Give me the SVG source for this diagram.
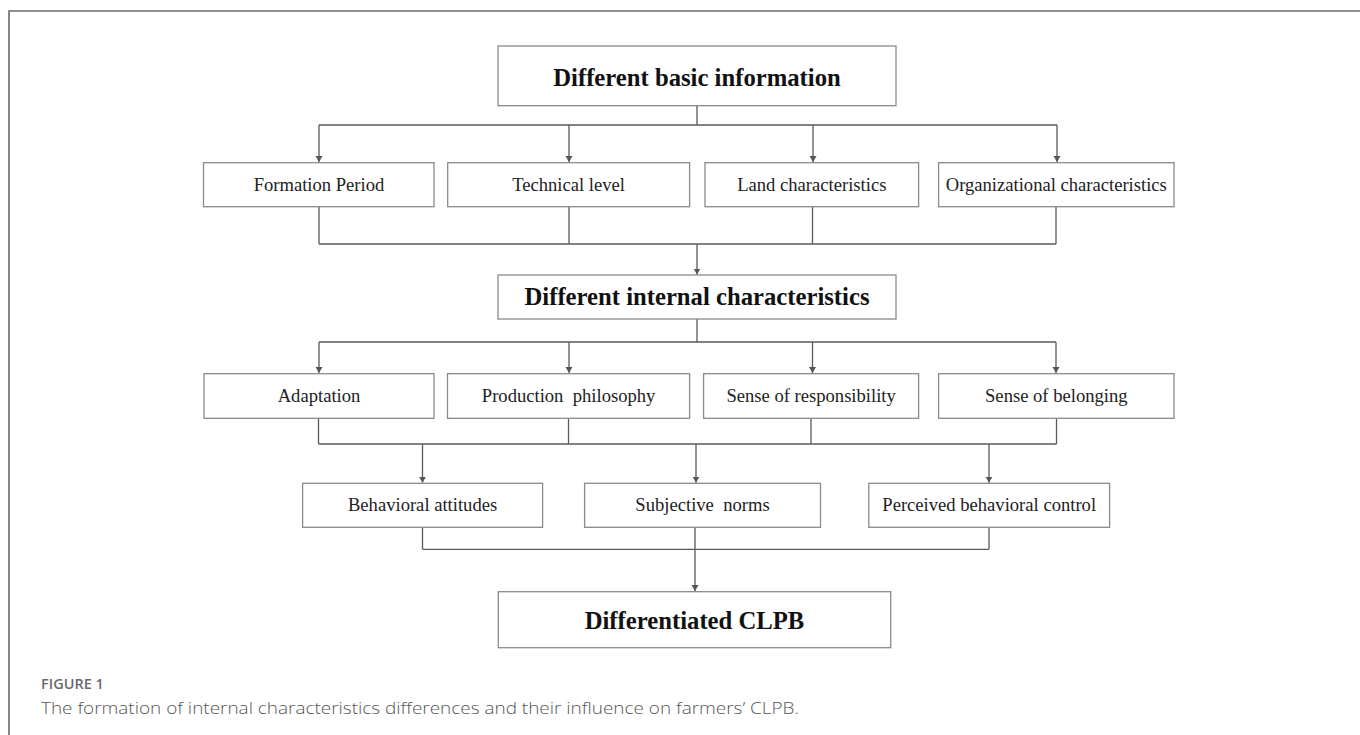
<svg xmlns="http://www.w3.org/2000/svg" width="1360" height="735" viewBox="0 0 1360 735">
<defs>
<marker id="arr" markerUnits="userSpaceOnUse" markerWidth="7" markerHeight="8" refX="6" refY="3.5" orient="auto">
<path d="M0,0 L6,3.5 L0,7 z" fill="#555"/>
</marker>
<style>
.box{fill:#fff;stroke:#8a8a8a;stroke-width:1.3}
.t{font-family:"Liberation Serif","Times New Roman",serif;font-size:18.6px;fill:#222;text-anchor:middle;white-space:pre}
.tb{font-family:"Liberation Serif","Times New Roman",serif;font-size:24.7px;font-weight:bold;fill:#111;text-anchor:middle}
.ln{fill:none;stroke:#5a5a5a;stroke-width:1.3}
.ar{fill:none;stroke:#5a5a5a;stroke-width:1.3;marker-end:url(#arr)}
</style>
</defs>
<rect width="1360" height="735" fill="#fff"/>
<path d="M1362,11 H9 V737" fill="none" stroke="#6a6a6a" stroke-width="1.6"/>

<g id="connectors">
<path class="ln" d="M697,105.7 V125 M319,125 H1057"/>
<path class="ar" d="M319,125 V162"/>
<path class="ar" d="M569,125 V162"/>
<path class="ar" d="M813,125 V162"/>
<path class="ar" d="M1057,125 V162"/>
<path class="ln" d="M319,206.7 V244 M569,206.7 V244 M812.5,206.7 V244 M1056,206.7 V244 M319,244 H1056"/>
<path class="ar" d="M697,244 V274.5"/>
<path class="ln" d="M697,319 V342 M319,342 H1056"/>
<path class="ar" d="M319,342 V373"/>
<path class="ar" d="M569,342 V373"/>
<path class="ar" d="M812.5,342 V373"/>
<path class="ar" d="M1056,342 V373"/>
<path class="ln" d="M318.5,418.3 V444 M568.5,418.3 V444 M811,418.3 V444 M1056.5,418.3 V444 M318.5,444 H1056.5"/>
<path class="ar" d="M422.5,444 V482.7"/>
<path class="ar" d="M696,444 V482.7"/>
<path class="ar" d="M989,444 V482.7"/>
<path class="ln" d="M422.5,527.3 V549.3 M695,527.3 V549.3 M989,527.3 V549.3 M422.5,549.3 H989"/>
<path class="ar" d="M695,549.3 V591"/>
</g>

<g id="n-basic">
<rect class="box" x="498" y="46" width="398" height="59.7"/>
<text class="tb" x="697" y="85.7">Different basic information</text>
</g>
<g id="n-formation">
<rect class="box" x="203.5" y="162.7" width="230.5" height="44"/>
<text class="t" x="319" y="191">Formation Period</text>
</g>
<g id="n-technical">
<rect class="box" x="447.7" y="162.7" width="241.9" height="44"/>
<text class="t" x="568.6" y="191">Technical level</text>
</g>
<g id="n-land">
<rect class="box" x="705" y="162.7" width="213.6" height="44"/>
<text class="t" x="811.8" y="191">Land characteristics</text>
</g>
<g id="n-org">
<rect class="box" x="938.6" y="162.7" width="235.4" height="44"/>
<text class="t" x="1056.3" y="191">Organizational characteristics</text>
</g>
<g id="n-internal">
<rect class="box" x="498" y="275" width="398" height="44"/>
<text class="tb" x="697" y="304.5">Different internal characteristics</text>
</g>
<g id="n-adaptation">
<rect class="box" x="204" y="373.7" width="230" height="44.6"/>
<text class="t" x="319" y="401.7">Adaptation</text>
</g>
<g id="n-production">
<rect class="box" x="447.5" y="373.7" width="242.1" height="44.6"/>
<text class="t" x="568.6" y="401.7" xml:space="preserve">Production  philosophy</text>
</g>
<g id="n-responsibility">
<rect class="box" x="703.6" y="373.7" width="215" height="44.6"/>
<text class="t" x="811.1" y="401.7">Sense of responsibility</text>
</g>
<g id="n-belonging">
<rect class="box" x="938.6" y="373.7" width="235.4" height="44.6"/>
<text class="t" x="1056.3" y="401.7">Sense of belonging</text>
</g>
<g id="n-attitudes">
<rect class="box" x="302.6" y="483.3" width="240" height="44"/>
<text class="t" x="422.6" y="510.7">Behavioral attitudes</text>
</g>
<g id="n-norms">
<rect class="box" x="584.6" y="483.3" width="235.9" height="44"/>
<text class="t" x="702.5" y="510.7" xml:space="preserve">Subjective  norms</text>
</g>
<g id="n-control">
<rect class="box" x="868.8" y="483.3" width="240.8" height="44"/>
<text class="t" x="989.2" y="510.7">Perceived behavioral control</text>
</g>
<g id="n-clpb">
<rect class="box" x="498.3" y="591.7" width="392.4" height="56"/>
<text class="tb" x="694.5" y="629.3">Differentiated CLPB</text>
</g>

<g id="caption">
<text x="41" y="689" font-family="'Open Sans','Liberation Sans',sans-serif" font-size="14.5" font-weight="600" fill="#6a6a6a">FIGURE 1</text>
<text x="41" y="714" font-family="'Open Sans','Liberation Sans',sans-serif" font-size="17" font-weight="300" fill="#555" textLength="758" lengthAdjust="spacingAndGlyphs">The formation of internal characteristics differences and their influence on farmers’ CLPB.</text>
</g>
</svg>
